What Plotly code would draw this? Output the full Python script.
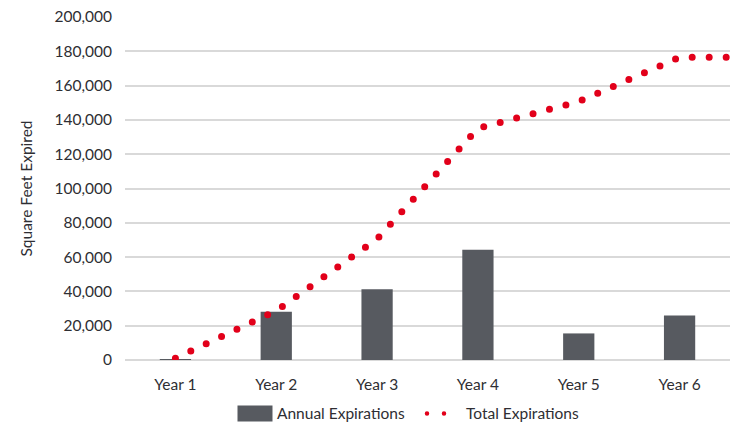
import plotly.graph_objects as go

categories = ["Year 1", "Year 2", "Year 3", "Year 4", "Year 5", "Year 6"]
annual_expirations = [500, 28200, 41200, 64300, 15500, 26000]
# cumulative line: one point per year, plus a final point carrying Year 6 total to the right edge
total_positions = [0, 1, 2, 3, 4, 5, 5.5]
total_expirations = [1000, 28700, 70600, 135100, 150700, 176500, 176500]
y_ticks = [0, 20000, 40000, 60000, 80000, 100000, 120000, 140000, 160000, 180000, 200000]

FONT = "Lato"
TEXT = "#2e2e33"
BAR = "#575a60"
RED = "#e2001a"
GRID = "#d9d9d9"

fig = go.Figure()
fig.add_trace(go.Bar(
    x=list(range(len(categories))), y=annual_expirations, name="Annual Expirations",
    marker=dict(color=BAR, line=dict(width=0)), width=0.31,
))
fig.add_trace(go.Scatter(
    x=total_positions, y=total_expirations, name="Total Expirations", mode="lines",
    line=dict(color=RED, width=7, dash="0px,17px"),
))

fig.update_layout(
    width=748, height=422,
    margin=dict(l=125, r=18, t=17, b=62, autoexpand=False),
    paper_bgcolor="white", plot_bgcolor="white",
    font=dict(family=FONT, size=15.5, color=TEXT),
    showlegend=True,
    legend=dict(orientation="h", x=0.1785, xanchor="left", y=-0.157, yanchor="middle",
                font=dict(size=15.5, color=TEXT), traceorder="normal", itemwidth=34,
                entrywidth=140, entrywidthmode="pixels"),
)
fig.update_xaxes(
    tickmode="array", tickvals=list(range(len(categories))), ticktext=categories,
    range=[-0.5, 5.5], showgrid=False, zeroline=False, showline=False, ticks="",
    ticklabelstandoff=13, tickfont=dict(size=15.5, color=TEXT), automargin=False,
)
fig.update_yaxes(
    range=[0, 200000], tickvals=y_ticks, tickformat=",d",
    showgrid=True, gridcolor=GRID, gridwidth=1.5, zeroline=True, zerolinecolor=GRID, zerolinewidth=1.5,
    showline=False, ticks="", ticklabelstandoff=12, tickfont=dict(size=15.5, color=TEXT),
    title=dict(text="Square Feet Expired", font=dict(size=15.5, color=TEXT), standoff=18),
    automargin=False,
)

post = """
var gd = document.getElementById('{plot_id}');
function fix(){
  gd.querySelectorAll('.scatterlayer .js-line').forEach(function(p){ p.style.strokeLinecap='round'; });
  var traces = gd.querySelectorAll('.legend .traces');
  traces.forEach(function(t, i){
    if (i === 0) {
      t.querySelectorAll('.legendpoints path').forEach(function(p){
        p.setAttribute('d','M-17.5,-8h35v16h-35Z');
      });
    } else {
      t.querySelectorAll('.legendlines path').forEach(function(p){
        p.style.strokeLinecap='round'; p.style.strokeWidth='4.5px'; p.style.strokeDasharray='0px,17px';
      });
    }
  });
}
fix();
gd.on('plotly_afterplot', fix);
setTimeout(fix, 50);
setTimeout(fix, 300);
"""
fig.write_html("out.html", post_script=post)
